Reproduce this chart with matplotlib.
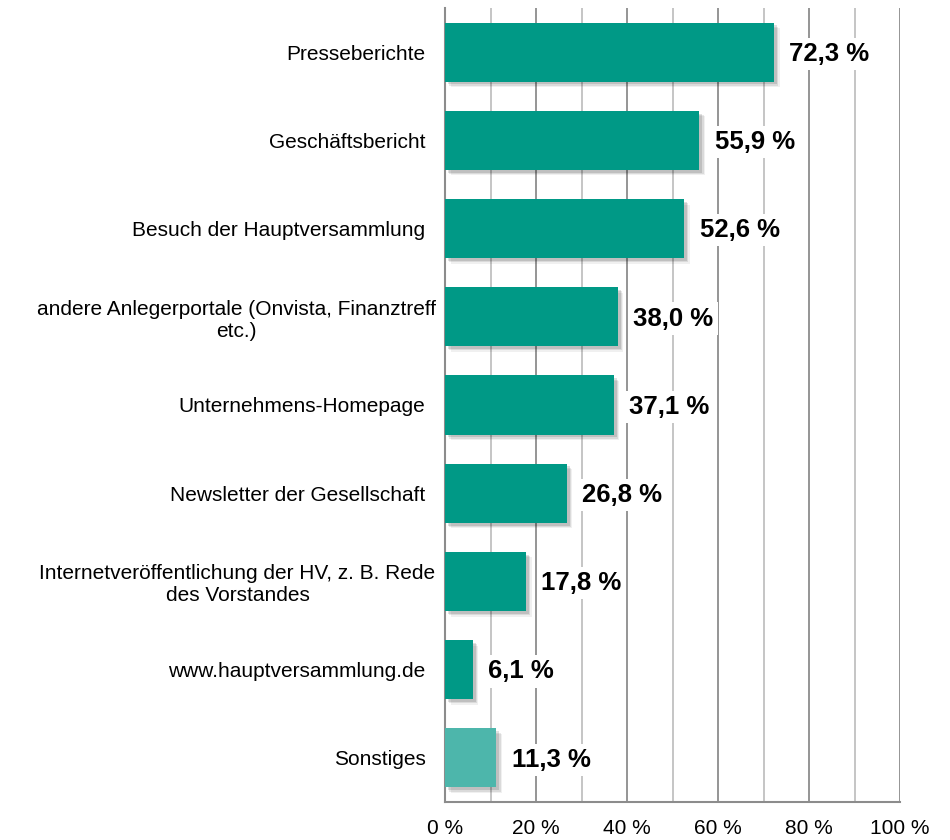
import matplotlib
matplotlib.use("Agg")
import matplotlib.pyplot as plt
import matplotlib.patheffects as pe
import matplotlib.transforms as mtransforms
from matplotlib.ticker import MultipleLocator, FuncFormatter

categories = [
    "Presseberichte",
    "Geschäftsbericht",
    "Besuch der Hauptversammlung",
    "andere Anlegerportale (Onvista, Finanztreff\netc.)",
    "Unternehmens-Homepage",
    "Newsletter der Gesellschaft",
    "Internetveröffentlichung der HV, z. B. Rede\ndes Vorstandes",
    "www.hauptversammlung.de",
    "Sonstiges",
]
values = [72.3, 55.9, 52.6, 38.0, 37.1, 26.8, 17.8, 6.1, 11.3]
value_labels = ["72,3 %", "55,9 %", "52,6 %", "38,0 %", "37,1 %", "26,8 %", "17,8 %", "6,1 %", "11,3 %"]
colors = ["#009986"] * 8 + ["#4db6ab"]

plt.rcParams["font.family"] = ["Liberation Sans", "DejaVu Sans"]

fig = plt.figure(figsize=(9.5, 8.4), dpi=100)
ax = fig.add_axes([445 / 950, 1 - 802 / 840, 455 / 950, 794 / 840])

ypos = list(range(len(categories)))

shadow = [
    pe.SimplePatchShadow(offset=(4, -4), shadow_rgbFace="#000000", alpha=0.06),
    pe.SimplePatchShadow(offset=(3, -3), shadow_rgbFace="#000000", alpha=0.09),
    pe.SimplePatchShadow(offset=(2, -2), shadow_rgbFace="#000000", alpha=0.12),
    pe.Normal(),
]
bars = ax.barh(ypos, values, height=0.67, color=colors, zorder=3)
for b in bars:
    b.set_path_effects(shadow)

for y, v, lab in zip(ypos, values, value_labels):
    ax.text(v + 3.4, y + 0.02, lab, ha="left", va="center", fontsize=18.5, fontweight="bold",
            color="black", zorder=4,
            bbox=dict(facecolor="white", edgecolor="none", pad=3))

ax.set_xlim(0, 100)
ax.set_ylim(len(categories) - 0.5, -0.5)
ax.set_yticks(ypos)
ax.set_yticklabels(categories, fontsize=15, multialignment="center")
ax.tick_params(axis="y", length=0, pad=14)

shift = mtransforms.ScaledTranslation(10 / 100, 0, fig.dpi_scale_trans)
for lbl in ax.get_yticklabels():
    if "\n" in lbl.get_text():
        lbl.set_transform(lbl.get_transform() + shift)

ax.xaxis.set_major_locator(MultipleLocator(20))
ax.xaxis.set_minor_locator(MultipleLocator(10))
ax.xaxis.set_major_formatter(FuncFormatter(lambda x, p: f"{int(round(x))} %"))
ax.tick_params(axis="x", which="both", length=0, labelsize=15, pad=12)
ax.grid(axis="x", which="major", color="#8c8c8c", linewidth=1.3, zorder=0)
ax.grid(axis="x", which="minor", color="#c0c0c0", linewidth=1.3, zorder=0)
ax.set_axisbelow(True)

ax.spines["top"].set_visible(False)
ax.spines["right"].set_visible(False)
ax.spines["left"].set_color("#8c8c8c")
ax.spines["left"].set_linewidth(1.5)
ax.spines["bottom"].set_color("#8c8c8c")
ax.spines["bottom"].set_linewidth(1.5)

fig.savefig("out.png", dpi=100, facecolor="white")
